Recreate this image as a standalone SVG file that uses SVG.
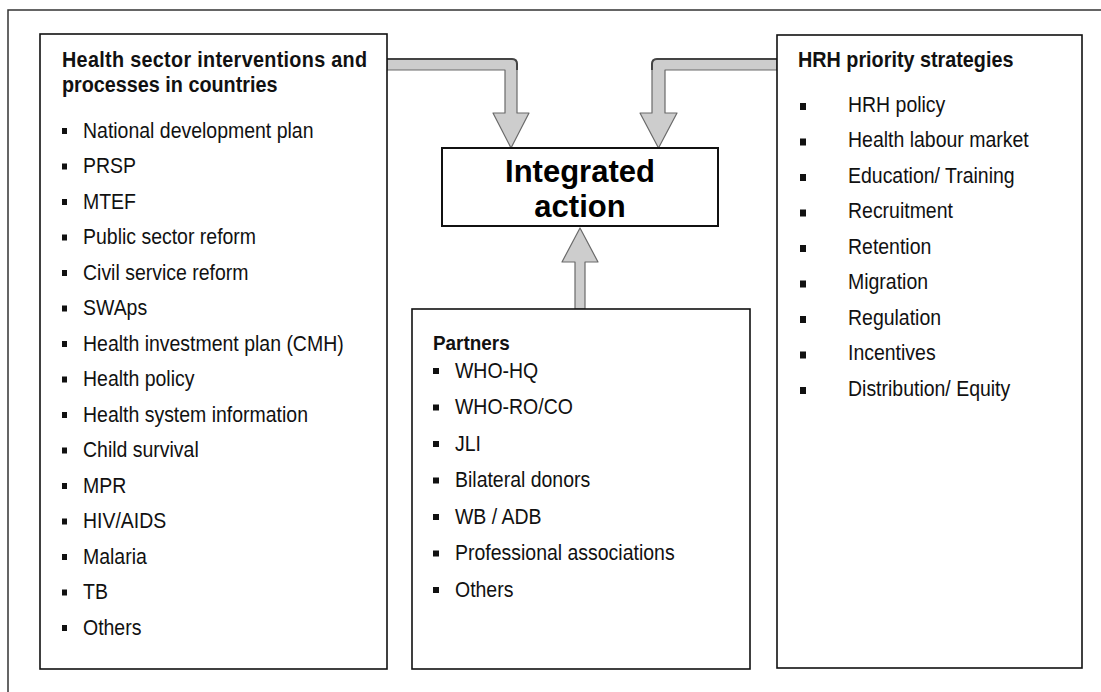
<svg xmlns="http://www.w3.org/2000/svg" width="1101" height="692" viewBox="0 0 1101 692">
<defs>
<style>
.box{fill:#fff;stroke:#111;stroke-width:1.6}
.ttl{font-family:"Liberation Sans",Arial,sans-serif;font-weight:bold;font-size:22px;fill:#111}
.it{font-family:"Liberation Sans",Arial,sans-serif;font-size:22px;fill:#111}
.big{font-family:"Liberation Sans",Arial,sans-serif;font-weight:bold;font-size:31px;fill:#000;text-anchor:middle}
.arr{fill:#cdcdcd;stroke:#6a6a6a;stroke-width:1.2;stroke-linejoin:round}
.frame{fill:none;stroke:#333;stroke-width:1.5}
</style>
</defs>
<rect width="1101" height="692" fill="#fff"/>
<path class="frame" d="M8,692 L8,10 L1101,10"/>

<g id="connectors">
<path class="arr" d="M387,59 L512,59 Q517,59 517,64 L517,113 L529,113 L511,148 L493,113 L505,113 L505,70 L387,70 Z"/>
<path d="M387,59 L512,59 Q517,59 517,64 L517,70" fill="none" stroke="#444" stroke-width="2"/>
<path class="arr" d="M777,59 L657,59 Q652,59 652,64 L652,113 L640,113 L658.5,148 L677,113 L665,113 L665,70 L777,70 Z"/>
<path d="M777,59 L657,59 Q652,59 652,64 L652,70" fill="none" stroke="#444" stroke-width="2"/>
<path class="arr" d="M575,309 L575,262 L562,262 L580,228 L598,262 L585,262 L585,309 Z"/>
</g>

<g id="health-sector">
<rect class="box" x="40" y="34" width="347" height="635"/>
<g transform="translate(62,0) scale(0.9,1)">
<text class="ttl" x="0" y="67" textLength="339" lengthAdjust="spacing">Health sector interventions and</text>
<text class="ttl" x="0" y="92">processes in countries</text>
</g>
<g fill="#111">
<rect x="62" y="128" width="5" height="6"/>
<rect x="62" y="163.5" width="5" height="6"/>
<rect x="62" y="199" width="5" height="6"/>
<rect x="62" y="234.5" width="5" height="6"/>
<rect x="62" y="270" width="5" height="6"/>
<rect x="62" y="305.5" width="5" height="6"/>
<rect x="62" y="341" width="5" height="6"/>
<rect x="62" y="376.5" width="5" height="6"/>
<rect x="62" y="412" width="5" height="6"/>
<rect x="62" y="447.5" width="5" height="6"/>
<rect x="62" y="483" width="5" height="6"/>
<rect x="62" y="518.5" width="5" height="6"/>
<rect x="62" y="554" width="5" height="6"/>
<rect x="62" y="589.5" width="5" height="6"/>
<rect x="62" y="625" width="5" height="6"/>
</g>
<g transform="translate(83,0) scale(0.885,1)">
<text class="it" x="0" y="138">National development plan</text>
<text class="it" x="0" y="173.5">PRSP</text>
<text class="it" x="0" y="209">MTEF</text>
<text class="it" x="0" y="244.5">Public sector reform</text>
<text class="it" x="0" y="280">Civil service reform</text>
<text class="it" x="0" y="315.5">SWAps</text>
<text class="it" x="0" y="351">Health investment plan (CMH)</text>
<text class="it" x="0" y="386.5">Health policy</text>
<text class="it" x="0" y="422">Health system information</text>
<text class="it" x="0" y="457.5">Child survival</text>
<text class="it" x="0" y="493">MPR</text>
<text class="it" x="0" y="528.5">HIV/AIDS</text>
<text class="it" x="0" y="564">Malaria</text>
<text class="it" x="0" y="599.5">TB</text>
<text class="it" x="0" y="635">Others</text>
</g>
</g>

<g id="integrated-action">
<rect x="442" y="148" width="276" height="78" fill="#fff" stroke="#111" stroke-width="2"/>
<text class="big" x="580" y="182">Integrated</text>
<text class="big" x="580" y="217">action</text>
</g>

<g id="hrh">
<rect class="box" x="777" y="35" width="305" height="633"/>
<g transform="translate(798,0) scale(0.9,1)">
<text class="ttl" x="0" y="67">HRH priority strategies</text>
</g>
<g fill="#111">
<rect x="800" y="103" width="6" height="7"/>
<rect x="800" y="138.5" width="6" height="7"/>
<rect x="800" y="174" width="6" height="7"/>
<rect x="800" y="209.5" width="6" height="7"/>
<rect x="800" y="245" width="6" height="7"/>
<rect x="800" y="280.5" width="6" height="7"/>
<rect x="800" y="316" width="6" height="7"/>
<rect x="800" y="351.5" width="6" height="7"/>
<rect x="800" y="387" width="6" height="7"/>
</g>
<g transform="translate(848,0) scale(0.885,1)">
<text class="it" x="0" y="112">HRH policy</text>
<text class="it" x="0" y="147.5">Health labour market</text>
<text class="it" x="0" y="183">Education/ Training</text>
<text class="it" x="0" y="218.5">Recruitment</text>
<text class="it" x="0" y="254">Retention</text>
<text class="it" x="0" y="289.5">Migration</text>
<text class="it" x="0" y="325">Regulation</text>
<text class="it" x="0" y="360.5">Incentives</text>
<text class="it" x="0" y="396">Distribution/ Equity</text>
</g>
</g>

<g id="partners">
<rect class="box" x="412" y="309" width="338" height="360"/>
<g transform="translate(433,0) scale(0.9,1)">
<text class="ttl" x="0" y="350" style="font-size:21px">Partners</text>
</g>
<g fill="#111">
<rect x="433" y="368" width="6" height="6"/>
<rect x="433" y="404.5" width="6" height="6"/>
<rect x="433" y="441" width="6" height="6"/>
<rect x="433" y="477.5" width="6" height="6"/>
<rect x="433" y="514" width="6" height="6"/>
<rect x="433" y="550.5" width="6" height="6"/>
<rect x="433" y="587" width="6" height="6"/>
</g>
<g transform="translate(455,0) scale(0.885,1)">
<text class="it" x="0" y="378">WHO-HQ</text>
<text class="it" x="0" y="414.5">WHO-RO/CO</text>
<text class="it" x="0" y="451">JLI</text>
<text class="it" x="0" y="487.5">Bilateral donors</text>
<text class="it" x="0" y="524">WB / ADB</text>
<text class="it" x="0" y="560.5">Professional associations</text>
<text class="it" x="0" y="597">Others</text>
</g>
</g>
</svg>
